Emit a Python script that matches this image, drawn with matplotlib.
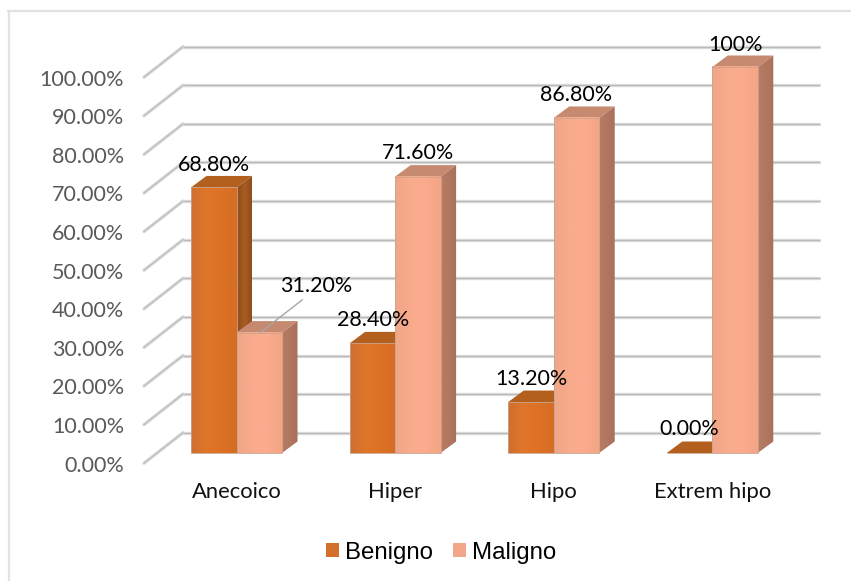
import numpy as np
import matplotlib
matplotlib.use('Agg')
import matplotlib.pyplot as plt
from matplotlib.colors import LinearSegmentedColormap
from matplotlib.lines import Line2D
from matplotlib.patches import Patch, Polygon, Rectangle

categories = ['Anecoico', 'Hiper', 'Hipo', 'Extrem hipo']
benigno = [68.8, 28.4, 13.2, 0.0]
maligno = [31.2, 71.6, 86.8, 100.0]
benigno_labels = ['68.80%', '28.40%', '13.20%', '0.00%']
maligno_labels = ['31.20%', '71.60%', '86.80%', '100%']
ticks = list(range(0, 101, 10))
tick_labels = ['%.2f%%' % t for t in ticks]

W, H = 851, 581
fig = plt.figure(figsize=(W / 100, H / 100), dpi=100)
ax = fig.add_axes([0, 0, 1, 1])

# px per unit, the whole figure is one axes
sx, sy = 158.6, 3.86
xlim = (-236.5 / sx, (W - 236.5) / sx)
ylim = ((453 - H) / sy, 453 / sy)
ax.axis('off')

# only the top and left edge of the frame show up
fig.add_artist(Line2D([9 / W, 9 / W], [0, 1 - 10.5 / H], color='#e2e2e2', lw=1.6))
fig.add_artist(Line2D([8 / W, 1], [1 - 10.5 / H, 1 - 10.5 / H], color='#e2e2e2', lw=1.6))

bw = 45.5 / sx
# bar depth and floor depth in data units
bdx, bdy = 15.5 / sx, 11.5 / sy
wall_dx, wall_dy = 39 / sx, 30.5 / sy
wall_x0 = (183 - 236.5) / sx
wall_x1 = (819 - 236.5) / sx
back_shift = 20.3 / sy

front_b = LinearSegmentedColormap.from_list('fb', ['#cf6f30', '#e0762a', '#dd7226', '#d66d22'])
side_b = LinearSegmentedColormap.from_list('sb', ['#8f4f1c', '#a85c20', '#8a4c1e'])
front_m = LinearSegmentedColormap.from_list('fm', ['#f0a688', '#f9ab8c', '#fbab8e', '#f3a584'])
side_m = LinearSegmentedColormap.from_list('sm', ['#b67c64', '#b17761', '#a96f58'])
ramp = np.linspace(0, 1, 32)[None, :]


def grid_line(xs, ys, z=1):
    ax.plot(xs, ys, color='#d9d9d9', lw=2.4, zorder=z, solid_capstyle='round')
    ax.plot(xs, ys, color='#b8b8b8', lw=0.7, zorder=z)


for t in ticks:
    y = t + back_shift
    grid_line([wall_x0, wall_x1], [y, y])
    grid_line([wall_x0 - wall_dx, wall_x0], [y - wall_dy, y])
    ax.text(wall_x0 - wall_dx - 20 / sx, y - wall_dy - 2.5 / sy, tick_labels[t // 10], ha='right',
            va='center', fontsize=15.5, family='Lato', color='#595959')


def bar3d(x, v, front, side, top):
    ax.add_patch(Polygon([(x, v), (x + bw, v), (x + bw + bdx, v + bdy), (x + bdx, v + bdy)],
                         fc=top, ec='none', zorder=3))
    clip = Polygon([(x + bw, 0), (x + bw + bdx, bdy), (x + bw + bdx, v + bdy), (x + bw, v)],
                   fc='none', ec='none', transform=ax.transData)
    if v > 0:
        im = ax.imshow(ramp, cmap=side, extent=(x + bw, x + bw + bdx, 0, v + bdy), aspect='auto', zorder=3)
        im.set_clip_path(clip)
        ax.imshow(ramp, cmap=front, extent=(x, x + bw, 0, v), aspect='auto', zorder=3.1)
    ax.add_patch(Rectangle((x, 0), bw, v, fc='none', ec='#c9a48f', lw=0.6, zorder=3.2))


xpos = np.arange(len(categories))
for i in xpos:
    bar3d(i - bw, benigno[i], front_b, side_b, '#b3601f')
    bar3d(i, maligno[i], front_m, side_m, '#c68a70')

for i in xpos:
    ax.text(i, -39.5 / sy, categories[i], ha='center', va='center', fontsize=15.8, family='Lato', color='#111111')

b_off = [(0, 22), (1, 23), (0, 23), (0, 24)]
m_off = [(57, 47), (0, 24), (0, 23), (0, 22)]
for i in xpos:
    ax.annotate(benigno_labels[i], (i - bw / 2, benigno[i]), xytext=b_off[i], textcoords='offset pixels',
                ha='center', va='center', fontsize=15.5, family='Lato', color='black', zorder=5)
    ax.annotate(maligno_labels[i], (i + bw / 2, maligno[i]), xytext=m_off[i], textcoords='offset pixels',
                ha='center', va='center', fontsize=15.5, family='Lato', color='black', zorder=5)

# leader line of the 31.20% label
ax.plot([bw / 2 + 1 / sx, bw / 2 + 43 / sx], [maligno[0], maligno[0] + 32.7 / sy], color='#a6a6a6', lw=1, zorder=4)

ax.set_xlim(xlim)
ax.set_ylim(ylim)

handles = [Patch(fc='#d2702c', ec='none', label='Benigno'), Patch(fc='#f2a78b', ec='none', label='Maligno')]
fig.legend(handles=handles, loc='center', bbox_to_anchor=(441 / W, 1 - 552.5 / H), ncol=2, frameon=False,
           prop={'family': 'Liberation Sans', 'size': 17.3}, handlelength=0.53, handleheight=0.53,
           handletextpad=0.25, columnspacing=0.85)

fig.savefig('out.png', dpi=100)
